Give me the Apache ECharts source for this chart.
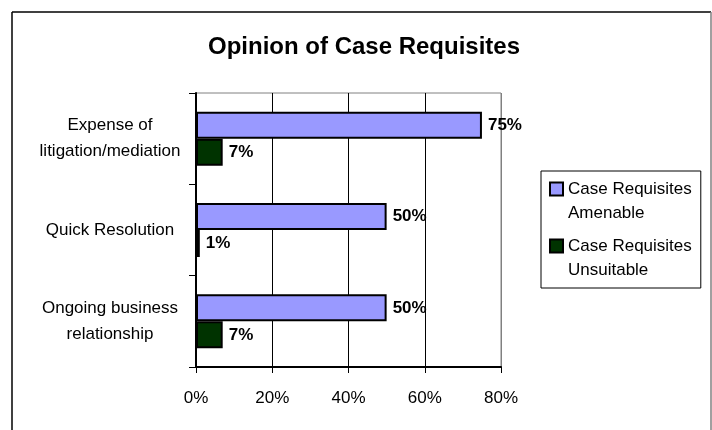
<!DOCTYPE html>
<html>
<head>
<meta charset="utf-8">
<script src="https://cdn.jsdelivr.net/npm/echarts@6/dist/echarts.min.js"></script>
<style>
  html, body { margin: 0; padding: 0; background: #fff; }
  #chart { width: 712px; height: 430px; }
</style>
</head>
<body>
<div id="chart"></div>
<script>
// chart data
var categories = ["Expense of\nlitigation/mediation", "Quick Resolution", "Ongoing business\nrelationship"];
var seriesNames = ["Case Requisites\nAmenable", "Case Requisites\nUnsuitable"];
var amenable = [75, 50, 50];
var unsuitable = [7, 1, 7];
var xTicks = [0, 20, 40, 60, 80];

var font = "Liberation Sans, Arial, sans-serif";

var chart = echarts.init(document.getElementById("chart"));

var barLabel = {
  show: true,
  position: "right",
  distance: 6,
  formatter: "{c}%",
  color: "#000",
  fontFamily: font,
  fontSize: 17,
  fontWeight: "bold"
};

var option = {
  animation: false,
  backgroundColor: "#fff",
  title: {
    text: "Opinion of Case Requisites",
    left: 208,
    top: 35,
    padding: 0,
    textStyle: {
      fontFamily: font,
      fontSize: 24,
      fontWeight: "bold",
      color: "#000"
    }
  },
  // outer frame
  graphic: [
    { type: "line", shape: { x1: 12, y1: 12, x2: 12, y2: 430 }, style: { stroke: "#000", lineWidth: 1.5 } },
    { type: "line", shape: { x1: 12, y1: 12, x2: 711, y2: 12 }, style: { stroke: "#000", lineWidth: 1.5 } },
    { type: "line", shape: { x1: 711, y1: 12, x2: 711, y2: 430 }, style: { stroke: "#808080", lineWidth: 1.5 } }
  ],
  legend: {
    orient: "vertical",
    left: 541,
    top: 171,
    padding: [-18, 9, 6, 8],
    itemGap: -15,
    itemWidth: 13,
    itemHeight: 13,
    icon: "rect",
    borderColor: "#000",
    borderWidth: 1,
    // leading blank line puts the first text line level with the icon
    formatter: function (name) { return "\n" + name; },
    textStyle: {
      fontFamily: font,
      fontSize: 17,
      lineHeight: 24,
      color: "#000"
    },
    data: seriesNames
  },
  grid: {
    left: 196,
    right: 211,
    top: 93,
    bottom: 63,
    show: true,
    borderColor: "#808080",
    borderWidth: 1
  },
  xAxis: {
    type: "value",
    min: xTicks[0],
    max: xTicks[xTicks.length - 1],
    interval: xTicks[1] - xTicks[0],
    axisLine: { show: true, lineStyle: { color: "#000", width: 2 } },
    axisTick: { show: true, length: 6, lineStyle: { color: "#000" } },
    axisLabel: {
      formatter: "{value}%",
      margin: 23,
      color: "#000",
      fontFamily: font,
      fontSize: 17
    },
    splitLine: {
      show: true,
      lineStyle: { color: ["#000", "#000", "#000", "#000", "#808080"], width: 1 }
    }
  },
  yAxis: {
    type: "category",
    inverse: true,
    data: categories,
    axisLine: { show: true, lineStyle: { color: "#000", width: 2 } },
    axisTick: { show: true, length: 7, lineStyle: { color: "#000" } },
    axisLabel: {
      margin: 86,
      align: "center",
      color: "#000",
      fontFamily: font,
      fontSize: 17,
      lineHeight: 26
    },
    splitLine: { show: false }
  },
  series: [
    {
      name: seriesNames[0],
      type: "bar",
      data: amenable,
      barWidth: 27,
      barGap: "0%",
      itemStyle: { color: "#9999FF", borderColor: "#000", borderWidth: 2 },
      label: barLabel
    },
    {
      name: seriesNames[1],
      type: "bar",
      data: unsuitable,
      barWidth: 27,
      barGap: "0%",
      itemStyle: { color: "#003300", borderColor: "#000", borderWidth: 2 },
      label: barLabel
    }
  ]
};

chart.setOption(option);
</script>
</body>
</html>
